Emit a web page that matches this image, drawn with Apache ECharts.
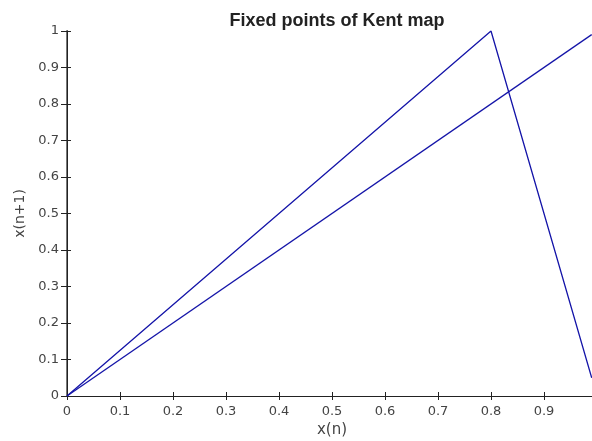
<!DOCTYPE html>
<html><head><meta charset="utf-8">
<script src="https://cdn.jsdelivr.net/npm/echarts@6/dist/echarts.min.js"></script>
<style>html,body{margin:0;padding:0;background:#fff}#c{width:592px;height:441px}</style>
</head><body><div id="c"></div>
<script>
var kentX = [0, 0.8, 0.99];
var kentY = [0, 1, 0.05];
var identX = [0, 0.99];
var identY = [0, 0.99];
var xTicks = [0, 0.1, 0.2, 0.3, 0.4, 0.5, 0.6, 0.7, 0.8, 0.9];
var yTicks = [0, 0.1, 0.2, 0.3, 0.4, 0.5, 0.6, 0.7, 0.8, 0.9, 1];

function pairs(xs, ys){ return xs.map(function(x,i){return [x, ys[i]];}); }
var font = 'DejaVu Sans, Verdana, sans-serif';
var chart = echarts.init(document.getElementById('c'), null, {renderer:'canvas'});
chart.setOption({
  animation:false,
  title:{text:'Fixed points of Kent map', left:332, top:7, textAlign:'center',
    textStyle:{fontFamily:'Liberation Sans, Arial, sans-serif', fontSize:18, fontWeight:'bold', color:'#222'}},
  grid:{left:67, top:31, width:530, height:365, outerBoundsMode:'none', containLabel:false},
  xAxis:[{type:'value', min:0, max:1, interval:0.1, position:'bottom',
    name:'x(n)', nameLocation:'middle', nameGap:25,
    nameTextStyle:{fontFamily:font, fontSize:15, color:'#444'},
    axisLine:{lineStyle:{color:'#222', width:1}},
    axisTick:{inside:true, length:4, lineStyle:{color:'#222'}},
    axisLabel:{fontFamily:font, fontSize:13, color:'#444', margin:9, showMaxLabel:false,
      formatter:function(v){ var r=Math.round(v*10)/10; return xTicks.indexOf(r)>=0 ? String(r) : ''; }},
    splitLine:{show:false}},
   {type:'value', min:0, max:1, interval:0.1, position:'top',
    axisLine:{lineStyle:{color:'#222', width:1}},
    axisTick:{inside:true, length:4, lineStyle:{color:'#222'}},
    axisLabel:{show:false}, splitLine:{show:false}}],
  yAxis:[{type:'value', min:0, max:1, interval:0.1, position:'left',
    name:'x(n+1)', nameLocation:'middle', nameGap:38, nameRotate:90,
    nameTextStyle:{fontFamily:font, fontSize:14, color:'#444'},
    axisLine:{lineStyle:{color:'#777', width:2}},
    axisTick:{inside:true, length:4, lineStyle:{color:'#222'}},
    axisLabel:{fontFamily:font, fontSize:13, color:'#444', margin:8,
      formatter:function(v){ var r=Math.round(v*10)/10; return yTicks.indexOf(r)>=0 ? String(r) : ''; }},
    splitLine:{show:false}},
   {type:'value', min:0, max:1, interval:0.1, position:'right',
    axisLine:{lineStyle:{color:'#222', width:1}},
    axisTick:{inside:true, length:6, lineStyle:{color:'#222'}},
    axisLabel:{show:false}, splitLine:{show:false}}],
  series:[
    {type:'line', data:pairs(kentX, kentY), showSymbol:false, symbol:'none',
      lineStyle:{color:'#1414a8', width:1.3}},
    {type:'line', data:pairs(identX, identY), showSymbol:false, symbol:'none',
      lineStyle:{color:'#1414a8', width:1.3}}
  ]
});
</script></body></html>
